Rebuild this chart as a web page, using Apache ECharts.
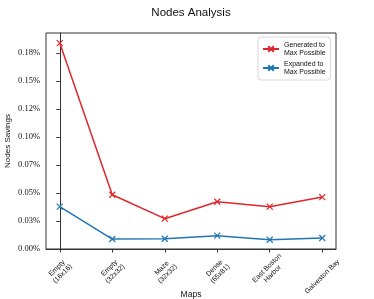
<!DOCTYPE html>
<html>
<head>
<meta charset="utf-8">
<script src="https://cdn.jsdelivr.net/npm/echarts@6/dist/echarts.min.js"></script>
<style>html,body{margin:0;padding:0;background:#fff}#c{width:374px;height:299px}</style>
</head>
<body>
<div id="c"></div>
<script>
var categories = ['Empty\n(16x16)', 'Empty\n(32x32)', 'Maze\n(32x32)', 'Dense\n(65x81)', 'East Boston\nHarbor', 'Galveston Bay'];
var generated = [0.184, 0.0485, 0.0271, 0.0422, 0.0378, 0.0464];
var expanded = [0.0378, 0.0089, 0.0092, 0.0119, 0.0083, 0.0098];
var yTickValues = [0, 0.025, 0.05, 0.075, 0.1, 0.125, 0.15, 0.175];
var yTickLabels = ['0.00%', '0.03%', '0.05%', '0.07%', '0.10%', '0.12%', '0.15%', '0.18%'];
var seriesNames = ['Generated to\nMax Possible', 'Expanded to\nMax Possible'];

var xIdx = categories.map(function (c, i) { return i; });
function pairs(arr) { return arr.map(function (v, i) { return [i, v]; }); }
var X = 'path://M0,0L10,10M10,0L0,10';
var RED = '#e0262b', BLUE = '#1f77b4';

var chart = echarts.init(document.getElementById('c'), null, {renderer: 'canvas'});
chart.setOption({
  animation: false,
  backgroundColor: '#fff',
  title: {
    text: 'Nodes Analysis', left: 186, top: 2, textAlign: 'center',
    textStyle: {fontFamily: 'Liberation Sans', fontSize: 11.5, fontWeight: 'normal', color: '#111'}
  },
  grid: {left: 46, right: 38, top: 33, bottom: 50, show: true, borderColor: '#333', borderWidth: 1,
         backgroundColor: 'transparent', containLabel: false, outerBoundsMode: 'none'},
  legend: {
    orient: 'vertical', left: 258, top: 37,
    itemWidth: 16, itemHeight: 7, itemGap: 3,
    padding: [4, 5, 4, 4],
    backgroundColor: '#fff', borderColor: '#d8d8d8', borderWidth: 1, borderRadius: 3,
    textStyle: {fontFamily: 'Liberation Sans', fontSize: 7, lineHeight: 8, color: '#111'},
    data: seriesNames
  },
  xAxis: {
    type: 'value', min: -0.262, max: 5.262,
    name: 'Maps', nameLocation: 'middle', nameGap: 41, nameMoveOverlap: false,
    nameTextStyle: {fontFamily: 'Liberation Sans', fontSize: 8.5, color: '#111'},
    axisLine: {show: true, lineStyle: {color: '#333', width: 1}},
    splitLine: {show: false},
    axisTick: {show: true, length: 3.5, customValues: xIdx, lineStyle: {color: '#333'}},
    axisLabel: {
      customValues: xIdx, rotate: 45, align: 'center', verticalAlign: 'middle', margin: 22,
      fontFamily: 'Liberation Sans', fontSize: 7, lineHeight: 8, color: '#111',
      rich: {
        sp: {fontSize: 7, lineHeight: 8},
        lg: {fontFamily: 'Liberation Sans', fontSize: 7, lineHeight: 8, color: '#111', padding: [0, 8, 0, 0]}
      },
      formatter: function (v) {
        var i = Math.round(v);
        var t = categories[i];
        if (t.indexOf('\n') < 0 && t.length > 10) return '{sp| }\n{lg|' + t + '}';
        return t;
      }
    }
  },
  yAxis: {
    type: 'value', min: 0, max: 0.193,
    name: 'Nodes Savings', nameLocation: 'middle', nameGap: 34, nameMoveOverlap: false,
    nameTextStyle: {fontFamily: 'Liberation Sans', fontSize: 8, color: '#111'},
    axisLine: {show: true, lineStyle: {color: '#333', width: 1}},
    splitLine: {show: false},
    axisTick: {show: true, length: 3.5, customValues: yTickValues, lineStyle: {color: '#333'}},
    axisLabel: {
      customValues: yTickValues, margin: 6,
      fontFamily: 'Liberation Serif', fontSize: 8.5, color: '#111',
      formatter: function (v) {
        var k = Math.round(v / 0.025);
        return yTickLabels[k] || '';
      }
    }
  },
  series: [
    {
      name: seriesNames[0], type: 'line', data: pairs(generated),
      symbol: X, symbolSize: 6,
      lineStyle: {color: RED, width: 1.5},
      itemStyle: {color: RED, borderColor: RED, borderWidth: 1.2}
    },
    {
      name: seriesNames[1], type: 'line', data: pairs(expanded),
      symbol: X, symbolSize: 6,
      lineStyle: {color: BLUE, width: 1.5},
      itemStyle: {color: BLUE, borderColor: BLUE, borderWidth: 1.2}
    }
  ]
});
</script>
</body>
</html>
